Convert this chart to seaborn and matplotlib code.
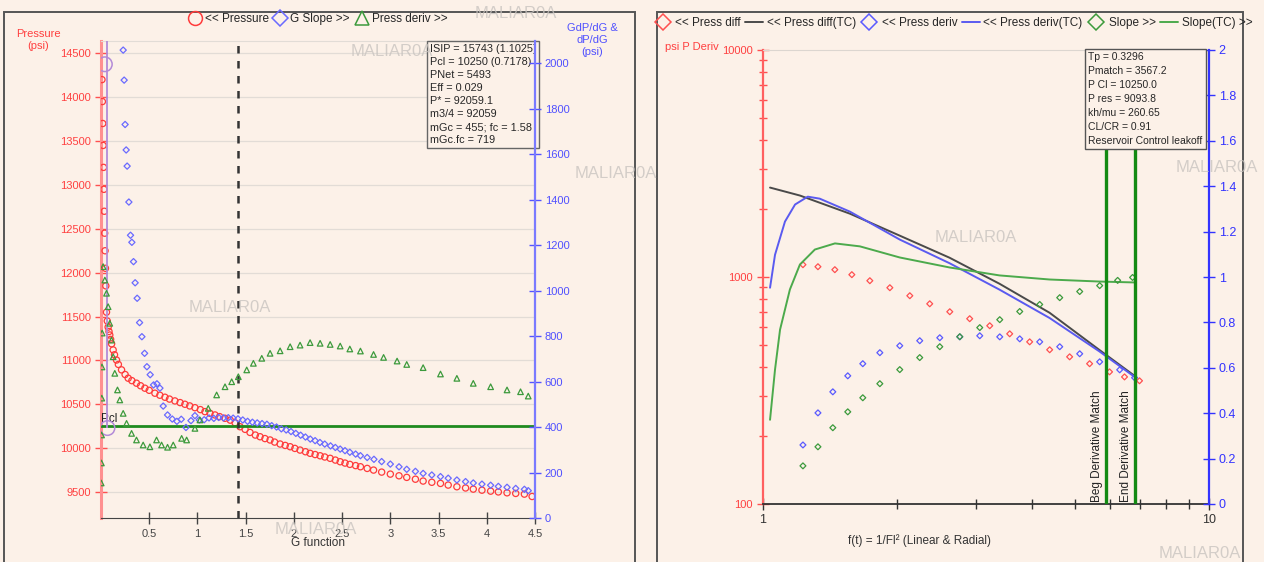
"""
G-function and after-closure log-log diagnostic plots.
"""

import matplotlib
matplotlib.use("Agg")
import matplotlib.pyplot as plt
import seaborn as sns
from matplotlib.lines import Line2D
from matplotlib.patches import Rectangle
from matplotlib.ticker import FixedLocator, NullFormatter, LogLocator

BG = "#fcf1e8"
RED = "#ff3b3b"
BLUE = "#6a6aff"
GREEN = "#3c9a3c"

# ---------------------------------------------------------------------------
# Left panel data (G function plot)
# ---------------------------------------------------------------------------
G_PRESS = [0.010, 0.014, 0.018, 0.022, 0.026, 0.030, 0.034, 0.038, 0.042, 0.046,
           0.050, 0.057, 0.065, 0.074, 0.083, 0.091, 0.100, 0.110, 0.126, 0.140,
           0.161, 0.180, 0.213, 0.250, 0.282, 0.320, 0.368, 0.410, 0.455, 0.500,
           0.559, 0.610, 0.663, 0.710, 0.766, 0.820, 0.870, 0.920, 0.974, 1.030,
           1.078, 1.130, 1.182, 1.230, 1.286, 1.340, 1.390, 1.441, 1.494, 1.545,
           1.600, 1.649, 1.700, 1.753, 1.800, 1.857, 1.910, 1.961, 2.010, 2.064,
           2.120, 2.168, 2.220, 2.272, 2.320, 2.376, 2.430, 2.480, 2.530, 2.580,
           2.640, 2.690, 2.760, 2.826, 2.910, 3.000, 3.090, 3.170, 3.260, 3.340,
           3.430, 3.520, 3.600, 3.690, 3.780, 3.860, 3.950, 4.040, 4.120, 4.210,
           4.300, 4.390, 4.470]
PRESSURE = [14200, 13950, 13700, 13450, 13200, 12950, 12700, 12450, 12250, 12050,
            11850, 11550, 11450, 11380, 11330, 11290, 11240, 11190, 11120, 11065,
            11005, 10955, 10893, 10840, 10798, 10770, 10741, 10712, 10684, 10660,
            10627, 10604, 10581, 10560, 10539, 10520, 10501, 10482, 10462, 10440,
            10417, 10398, 10379, 10360, 10341, 10320, 10290, 10245, 10215, 10180,
            10150, 10131, 10110, 10094, 10070, 10048, 10032, 10017, 9998, 9979,
            9960, 9942, 9928, 9914, 9900, 9885, 9865, 9846, 9831, 9816,
            9802, 9789, 9770, 9751, 9728, 9705, 9686, 9668, 9647, 9626,
            9612, 9599, 9580, 9561, 9547, 9534, 9522, 9511, 9502, 9492,
            9485, 9477, 9450]

G_SLOPE_X = [0.230, 0.240, 0.250, 0.261, 0.271, 0.289, 0.306, 0.320, 0.337, 0.354,
             0.375, 0.400, 0.424, 0.452, 0.476, 0.510, 0.545, 0.580, 0.611, 0.645,
             0.690, 0.739, 0.787, 0.832, 0.881, 0.933, 0.974, 1.019, 1.070, 1.120,
             1.170, 1.220, 1.270, 1.320, 1.370, 1.420, 1.470, 1.520, 1.570, 1.620,
             1.670, 1.720, 1.770, 1.820, 1.870, 1.920, 1.970, 2.020, 2.070, 2.120,
             2.170, 2.220, 2.270, 2.320, 2.380, 2.430, 2.480, 2.530, 2.580, 2.640,
             2.690, 2.760, 2.830, 2.910, 3.000, 3.090, 3.170, 3.260, 3.340, 3.430,
             3.520, 3.600, 3.690, 3.780, 3.860, 3.950, 4.040, 4.120, 4.210, 4.300,
             4.390, 4.430]
G_SLOPE = [2057, 1925, 1730, 1618, 1547, 1389, 1243, 1212, 1127, 1034,
           966, 859, 797, 724, 665, 630, 585, 590, 571, 492,
           453, 435, 425, 434, 398, 428, 450, 431, 432, 440,
           438, 442, 440, 441, 439, 436, 431, 425, 421, 418,
           415, 412, 406, 400, 392, 387, 380, 372, 364, 356,
           347, 340, 332, 325, 317, 310, 303, 296, 289, 281,
           274, 266, 258, 248, 237, 225, 214, 205, 196, 189,
           182, 175, 167, 160, 154, 149, 144, 139, 135, 130,
           126, 120]

G_DERIV_X = [0.002, 0.004, 0.006, 0.008, 0.010, 0.012, 0.022, 0.040, 0.057, 0.074,
             0.091, 0.109, 0.126, 0.143, 0.171, 0.195, 0.230, 0.265, 0.317, 0.368,
             0.437, 0.507, 0.576, 0.628, 0.690, 0.749, 0.836, 0.888, 0.974, 1.026,
             1.112, 1.199, 1.286, 1.355, 1.424, 1.511, 1.580, 1.667, 1.753, 1.857,
             1.961, 2.064, 2.168, 2.272, 2.376, 2.480, 2.580, 2.690, 2.826, 2.930,
             3.070, 3.170, 3.340, 3.520, 3.690, 3.860, 4.040, 4.210, 4.350, 4.430]
PRESS_DERIV = [154, 242, 365, 527, 664, 813, 1105, 1046, 988, 929,
               856, 782, 709, 636, 563, 519, 460, 416, 372, 343,
               321, 313, 343, 321, 311, 321, 350, 343, 394, 431,
               482, 541, 577, 599, 621, 651, 680, 702, 724, 735,
               753, 760, 771, 768, 763, 756, 743, 734, 719, 706,
               690, 675, 661, 633, 614, 592, 577, 563, 555, 536]

ISIP_G = [0.040, 0.067]
ISIP_P = [14375, 10230]
PCL = 10250
G_CLOSURE = 1.42

LEFT_Y_TICKS = [9500, 10000, 10500, 11000, 11500, 12000, 12500, 13000, 13500, 14000, 14500]
RIGHT_Y_TICKS = [0, 200, 400, 600, 800, 1000, 1200, 1400, 1600, 1800, 2000]
G_TICKS = [0.5, 1, 1.5, 2, 2.5, 3, 3.5, 4, 4.5]
G_TICK_LABELS = ["0.5", "1", "1.5", "2", "2.5", "3", "3.5", "4", "4.5"]

LEFT_INFO = ["ISIP = 15743 (1.1025)", "Pcl = 10250 (0.7178)", "PNet = 5493",
             "Eff = 0.029", "P* = 92059.1", "m3/4 = 92059",
             "mGc = 455; fc = 1.58", "mGc.fc = 719"]

# ---------------------------------------------------------------------------
# Right panel data (log-log after-closure plot)
# ---------------------------------------------------------------------------
F_DIFF_TC = [1.037, 1.210, 1.566, 2.026, 2.620, 3.390, 4.390, 5.680, 6.810]
P_DIFF_TC = [2477, 2285, 1901, 1521, 1216, 934, 696, 477, 367]

F_DERIV_TC = [1.037, 1.064, 1.120, 1.180, 1.260, 1.340, 1.566, 2.026, 2.620, 3.390, 4.390, 5.680, 6.810]
P_DERIV_TC = [897, 1253, 1754, 2086, 2259, 2214, 1941, 1462, 1150, 880, 660, 470, 363]

F_SLOPE_TC = [1.037, 1.064, 1.092, 1.149, 1.210, 1.307, 1.450, 1.649, 2.026, 2.620, 3.390, 4.390, 5.680, 6.810]
SLOPE_TC = [0.371, 0.592, 0.768, 0.945, 1.055, 1.121, 1.148, 1.135, 1.086, 1.042, 1.007, 0.989, 0.980, 0.976]

F_DIFF = [1.229, 1.328, 1.449, 1.582, 1.736, 1.925, 2.134, 2.365, 2.623, 2.907,
          3.224, 3.574, 3.962, 4.393, 4.870, 5.399, 5.984, 6.465, 6.985]
P_DIFF = [1133, 1110, 1077, 1024, 963, 897, 827, 762, 703, 655,
          610, 562, 518, 478, 445, 415, 382, 363, 349]

F_DERIV = [1.229, 1.328, 1.434, 1.549, 1.674, 1.828, 2.026, 2.246, 2.491, 2.762,
           3.062, 3.395, 3.764, 4.173, 4.627, 5.130, 5.687, 6.306, 6.810]
P_DERIV = [182, 252, 312, 367, 415, 464, 498, 524, 540, 545,
           551, 545, 534, 518, 493, 459, 423, 390, 360]

F_SLOPE = [1.229, 1.328, 1.434, 1.549, 1.674, 1.828, 2.026, 2.246, 2.491, 2.762,
           3.062, 3.395, 3.764, 4.173, 4.627, 5.130, 5.687, 6.240, 6.740]
SLOPE = [0.168, 0.252, 0.336, 0.406, 0.468, 0.530, 0.592, 0.645, 0.693, 0.737,
         0.777, 0.812, 0.848, 0.879, 0.909, 0.936, 0.962, 0.985, 0.998]

MATCH_LINES = [5.87, 6.83]
MATCH_LABELS = ["Beg Derivative Match", "End Derivative Match"]
SLOPE_TICKS = [0, 0.2, 0.4, 0.6, 0.8, 1, 1.2, 1.4, 1.6, 1.8, 2]
SLOPE_TICK_LABELS = ["0", "0.2", "0.4", "0.6", "0.8", "1", "1.2", "1.4", "1.6", "1.8", "2"]

RIGHT_INFO = ["Tp = 0.3296", "Pmatch = 3567.2", "P Cl = 10250.0", "P res = 9093.8",
              "kh/mu = 260.65", "CL/CR = 0.91", "Reservoir Control leakoff"]

WATERMARKS = [(516, 14), (392, 52), (616, 174), (230, 308), (316, 530),
              (976, 237), (1217, 168), (1200, 554)]

W, H = 1264, 562


def fx(px):
    return px / W


def fy(py):
    return 1 - py / H


sns.set_style("ticks")
plt.rcParams["font.family"] = ["Liberation Sans Narrow", "Liberation Sans", "DejaVu Sans"]
plt.rcParams["axes.facecolor"] = BG

fig = plt.figure(figsize=(W / 100, H / 100), dpi=100, facecolor=BG)

# panel frames
for x0, x1 in [(4, 635), (657, 1243)]:
    fig.patches.append(Rectangle((fx(x0), -0.02), fx(x1 - x0), fy(12) + 0.02,
                                 transform=fig.transFigure, fill=False,
                                 ec="#555555", lw=1.4, zorder=0))

# ---------------------------------------------------------------------------
# Left panel
# ---------------------------------------------------------------------------
ax1 = fig.add_axes([fx(101), fy(518), fx(434), 477 / H])
ax1.set_facecolor(BG)
ax1b = ax1.twinx()

ax1.set_xlim(0, 4.5)
ax1.set_ylim(9205, 14640)
ax1b.set_ylim(0, 2097)

ax1.yaxis.set_major_locator(FixedLocator(LEFT_Y_TICKS))
ax1.yaxis.grid(True, color="#e2dcd6", lw=0.9)
ax1.set_axisbelow(True)

sns.scatterplot(x=G_PRESS, y=PRESSURE, ax=ax1, marker="o", s=20,
                facecolors="none", edgecolor=RED, linewidth=0.9, zorder=3)
ax1.axhline(PCL, color="#1e8a1e", lw=2, zorder=4)
ax1.axvline(G_CLOSURE, color="#333333", lw=1.8, ls=(0, (3, 3)), zorder=4)
ax1.vlines(ISIP_G[1], ISIP_P[1], 14640, color="#b38ad8", lw=1.3, zorder=4)
sns.scatterplot(x=ISIP_G, y=ISIP_P, ax=ax1, marker="o", s=110,
                facecolors="none", edgecolor="#b38ad8", linewidth=1.1, zorder=5)
ax1.text(0.005, PCL + 15, "Pcl", fontsize=8.5, color="#222222", va="bottom")

sns.scatterplot(x=G_SLOPE_X, y=G_SLOPE, ax=ax1b, marker="D", s=10,
                facecolors="none", edgecolor=BLUE, linewidth=0.9, zorder=3)
sns.scatterplot(x=G_DERIV_X, y=PRESS_DERIV, ax=ax1b, marker="^", s=16,
                facecolors="none", edgecolor=GREEN, linewidth=0.9, zorder=3)

ax1.set_xticks(G_TICKS)
ax1.set_xticklabels(G_TICK_LABELS)
ax1b.yaxis.set_major_locator(FixedLocator(RIGHT_Y_TICKS))

ax1.tick_params(axis="y", color="#ff5050", labelcolor="#ff4040", labelsize=8,
                direction="inout", length=8, width=1, pad=3)
ax1.tick_params(axis="x", color="#444444", labelcolor="#444444", labelsize=8,
                direction="inout", length=8, width=1, pad=4)
ax1b.tick_params(axis="y", color="#5555ff", labelcolor="#5050ff", labelsize=8,
                 direction="inout", length=8, width=1, pad=3)

for name, sp in ax1.spines.items():
    sp.set_visible(name in ("left", "bottom", "top"))
ax1.spines["left"].set_color("#ff9090")
ax1.spines["left"].set_linewidth(2.2)
ax1.spines["bottom"].set_color("#444444")
ax1.spines["top"].set_color("#e2dcd6")
for name, sp in ax1b.spines.items():
    sp.set_visible(name == "right")
ax1b.spines["right"].set_color("#7a7aff")
ax1b.spines["right"].set_linewidth(1.6)
ax1.set_xlabel("")
ax1.set_ylabel("")
ax1b.set_ylabel("")

ax1.text(0.757, 0.994, "\n".join(LEFT_INFO), transform=ax1.transAxes,
         fontsize=7.8, va="top", ha="left", linespacing=1.38, zorder=6,
         bbox=dict(boxstyle="square,pad=0.25", fc=BG, ec="#666666", lw=1))

fig.text(fx(38), fy(40), "Pressure\n(psi)", color="#ff4040", fontsize=8,
         ha="center", va="center")
fig.text(fx(592), fy(40), "GdP/dG &\ndP/dG\n(psi)", color="#5050ff", fontsize=8,
         ha="center", va="center")
fig.text(fx(318), fy(543), "G function", color="#333333", fontsize=8.5,
         ha="center", va="center")

left_handles = [
    Line2D([], [], ls="none", marker="o", ms=10, mfc="none", mec=RED, mew=1.1),
    Line2D([], [], ls="none", marker="D", ms=8, mfc="none", mec=BLUE, mew=1.1),
    Line2D([], [], ls="none", marker="^", ms=10, mfc="none", mec=GREEN, mew=1.1),
]
fig.legend(left_handles, ["<< Pressure", "G Slope >>", "Press deriv >>"],
           loc="center", bbox_to_anchor=(fx(318), fy(19)), ncol=3, frameon=False,
           fontsize=8.5, handletextpad=0.35, columnspacing=0.5, handlelength=1.0)

# ---------------------------------------------------------------------------
# Right panel
# ---------------------------------------------------------------------------
ax2 = fig.add_axes([fx(763), fy(504), fx(446), 454 / H])
ax2.set_facecolor(BG)
ax2.set_xscale("log")
ax2.set_yscale("log")
ax2b = ax2.twinx()
ax2.set_xlim(1, 10)
ax2.set_ylim(100, 10000)
ax2b.set_ylim(0, 2)

sns.lineplot(x=F_DIFF_TC, y=P_DIFF_TC, ax=ax2, color="#4a4a4a", lw=1.4, sort=False)
sns.lineplot(x=F_DERIV_TC, y=P_DERIV_TC, ax=ax2, color="#5a5af0", lw=1.4, sort=False)
sns.scatterplot(x=F_DIFF, y=P_DIFF, ax=ax2, marker="D", s=9,
                facecolors="none", edgecolor="#ff5050", linewidth=0.9, zorder=3)
sns.scatterplot(x=F_DERIV, y=P_DERIV, ax=ax2, marker="D", s=9,
                facecolors="none", edgecolor="#5a5aff", linewidth=0.9, zorder=3)
sns.lineplot(x=F_SLOPE_TC, y=SLOPE_TC, ax=ax2b, color="#4caa4c", lw=1.4, sort=False)
sns.scatterplot(x=F_SLOPE, y=SLOPE, ax=ax2b, marker="D", s=9,
                facecolors="none", edgecolor="#3c9a3c", linewidth=0.9, zorder=3)

for xv, lab in zip(MATCH_LINES, MATCH_LABELS):
    ax2b.axvline(xv, color="#138a13", lw=2.4, zorder=5)
    ax2b.text(xv * 0.985, 0.01, lab, rotation=90, ha="right", va="bottom",
              fontsize=8.5, color="#222222", zorder=6)

ax2.yaxis.set_major_locator(FixedLocator([100, 1000, 10000]))
ax2.yaxis.set_major_formatter(plt.FixedFormatter(["100", "1000", "10000"]))
ax2.yaxis.set_minor_locator(LogLocator(base=10, subs=range(2, 10)))
ax2.yaxis.set_minor_formatter(NullFormatter())
ax2.xaxis.set_major_locator(FixedLocator([1, 10]))
ax2.xaxis.set_major_formatter(plt.FixedFormatter(["1", "10"]))
ax2.xaxis.set_minor_locator(LogLocator(base=10, subs=range(2, 10)))
ax2.xaxis.set_minor_formatter(NullFormatter())
ax2b.yaxis.set_major_locator(FixedLocator(SLOPE_TICKS))
ax2b.yaxis.set_major_formatter(plt.FixedFormatter(SLOPE_TICK_LABELS))

ax2.tick_params(axis="y", which="both", color="#ff5050", labelcolor="#ff4040",
                labelsize=8, direction="inout", width=1)
ax2.tick_params(axis="y", which="major", length=8)
ax2.tick_params(axis="y", which="minor", length=6)
ax2.tick_params(axis="x", which="both", color="#333333", labelcolor="#333333",
                labelsize=9, direction="inout", width=1)
ax2.tick_params(axis="x", which="major", length=8, pad=3)
ax2.tick_params(axis="x", which="minor", length=7)
ax2b.tick_params(axis="y", color="#3333ff", labelcolor="#3333ff", labelsize=9,
                 direction="inout", length=8, width=1, pad=3)

for name, sp in ax2.spines.items():
    sp.set_visible(name in ("left", "bottom", "top"))
ax2.spines["left"].set_color("#ff6060")
ax2.spines["left"].set_linewidth(1.6)
ax2.spines["bottom"].set_color("#333333")
ax2.spines["bottom"].set_linewidth(1.3)
ax2.spines["top"].set_color("#dcd6d0")
for name, sp in ax2b.spines.items():
    sp.set_visible(name == "right")
ax2b.spines["right"].set_color("#3333ff")
ax2b.spines["right"].set_linewidth(1.6)
for a in (ax2, ax2b):
    a.set_xlabel("")
    a.set_ylabel("")

ax2b.text(0.729, 0.996, "\n".join(RIGHT_INFO), transform=ax2b.transAxes,
          fontsize=7.5, va="top", ha="left", linespacing=1.5, zorder=7,
          bbox=dict(boxstyle="square,pad=0.3", fc=BG, ec="#555555", lw=1))

fig.text(fx(665), fy(47), "psi P Deriv", color="#ff4040", fontsize=8,
         ha="left", va="center")
fig.text(fx(920), fy(541), "f(t) = 1/Fl\u00b2 (Linear & Radial)", color="#333333",
         fontsize=8.5, ha="center", va="center")

right_handles = [
    Line2D([], [], ls="none", marker="D", ms=8, mfc="none", mec="#ff5050", mew=1.1),
    Line2D([], [], color="#4a4a4a", lw=1.4),
    Line2D([], [], ls="none", marker="D", ms=8, mfc="none", mec="#5a5aff", mew=1.1),
    Line2D([], [], color="#5a5af0", lw=1.4),
    Line2D([], [], ls="none", marker="D", ms=8, mfc="none", mec="#3c9a3c", mew=1.1),
    Line2D([], [], color="#4caa4c", lw=1.4),
]
fig.legend(right_handles, ["<< Press diff", "<< Press diff(TC)", "<< Press deriv",
                           "<< Press deriv(TC)", "Slope >>", "Slope(TC) >>"],
           loc="center", bbox_to_anchor=(fx(953), fy(23)), ncol=6, frameon=False,
           fontsize=8.5, handletextpad=0.3, columnspacing=0.4, handlelength=1.5)

for px, py in WATERMARKS:
    fig.text(fx(px), fy(py), "MALIAR0A", color="#c9c4c0", fontsize=12,
             ha="center", va="center", alpha=0.8, zorder=10)

fig.savefig("out.png", dpi=100, facecolor=BG)
